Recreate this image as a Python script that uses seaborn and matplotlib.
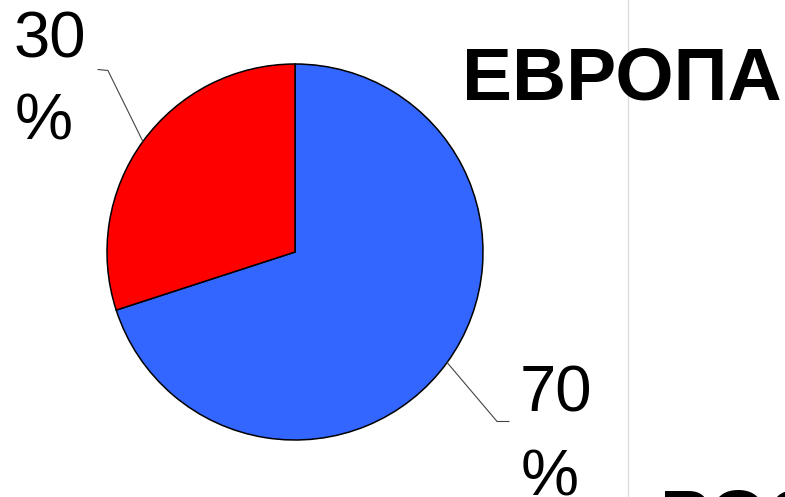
import numpy as np
import seaborn as sns
import matplotlib.pyplot as plt

# data
regions = ["Россия", "Европа"]
shares = [70, 30]
pct_labels = ["70", "30"]
colors = ["#3366ff", "#ff0000"]
title = "ЕВРОПА"
bottom_title = "РОССИЯ"

sns.set_theme(style="white")
plt.rcParams['font.family'] = ['Liberation Sans', 'DejaVu Sans']
plt.rcParams['text.color'] = 'black'

W, H = 785, 497
fig = plt.figure(figsize=(W / 100, H / 100), dpi=100)
ax = fig.add_axes([0, 0, 1, 1])

cx, cy, r = 295, H - 252, 188

# faint divider
ax.axvline(628, color="#dddddd", lw=1, zorder=0)

wedges, _ = ax.pie(shares, colors=colors, startangle=90, counterclock=False,
                   center=(cx, cy), radius=r, frame=True,
                   wedgeprops=dict(edgecolor="black", linewidth=1.1))
ax.set_xlim(0, W)
ax.set_ylim(0, H)
ax.set_axis_off()

# leader lines from the middle of each wedge
offsets = {0: [(50, -59), (62, -59)], 1: [(-35, 71), (-45, 72)]}
for i, w in enumerate(wedges):
    ang = np.deg2rad((w.theta1 + w.theta2) / 2)
    x0, y0 = cx + r * np.cos(ang), cy + r * np.sin(ang)
    pts = [(x0, y0)] + [(x0 + dx, y0 + dy) for dx, dy in offsets[i]]
    xs, ys = zip(*pts)
    ax.plot(xs, ys, color="#444444", lw=0.8)

ax.text(556, H - 412, pct_labels[0], fontsize=47, ha="center", va="baseline")
ax.text(550, H - 496, "%", fontsize=47, ha="center", va="baseline")
ax.text(50, H - 57, pct_labels[1], fontsize=47, ha="center", va="baseline")
ax.text(44, H - 140, "%", fontsize=47, ha="center", va="baseline")

ax.text(462, H - 100, title, fontsize=54, fontweight="bold", ha="left", va="baseline")
ax.text(660, H - 488, bottom_title, fontsize=54, fontweight="bold", ha="left", va="top")

fig.savefig("out.png", dpi=100)
